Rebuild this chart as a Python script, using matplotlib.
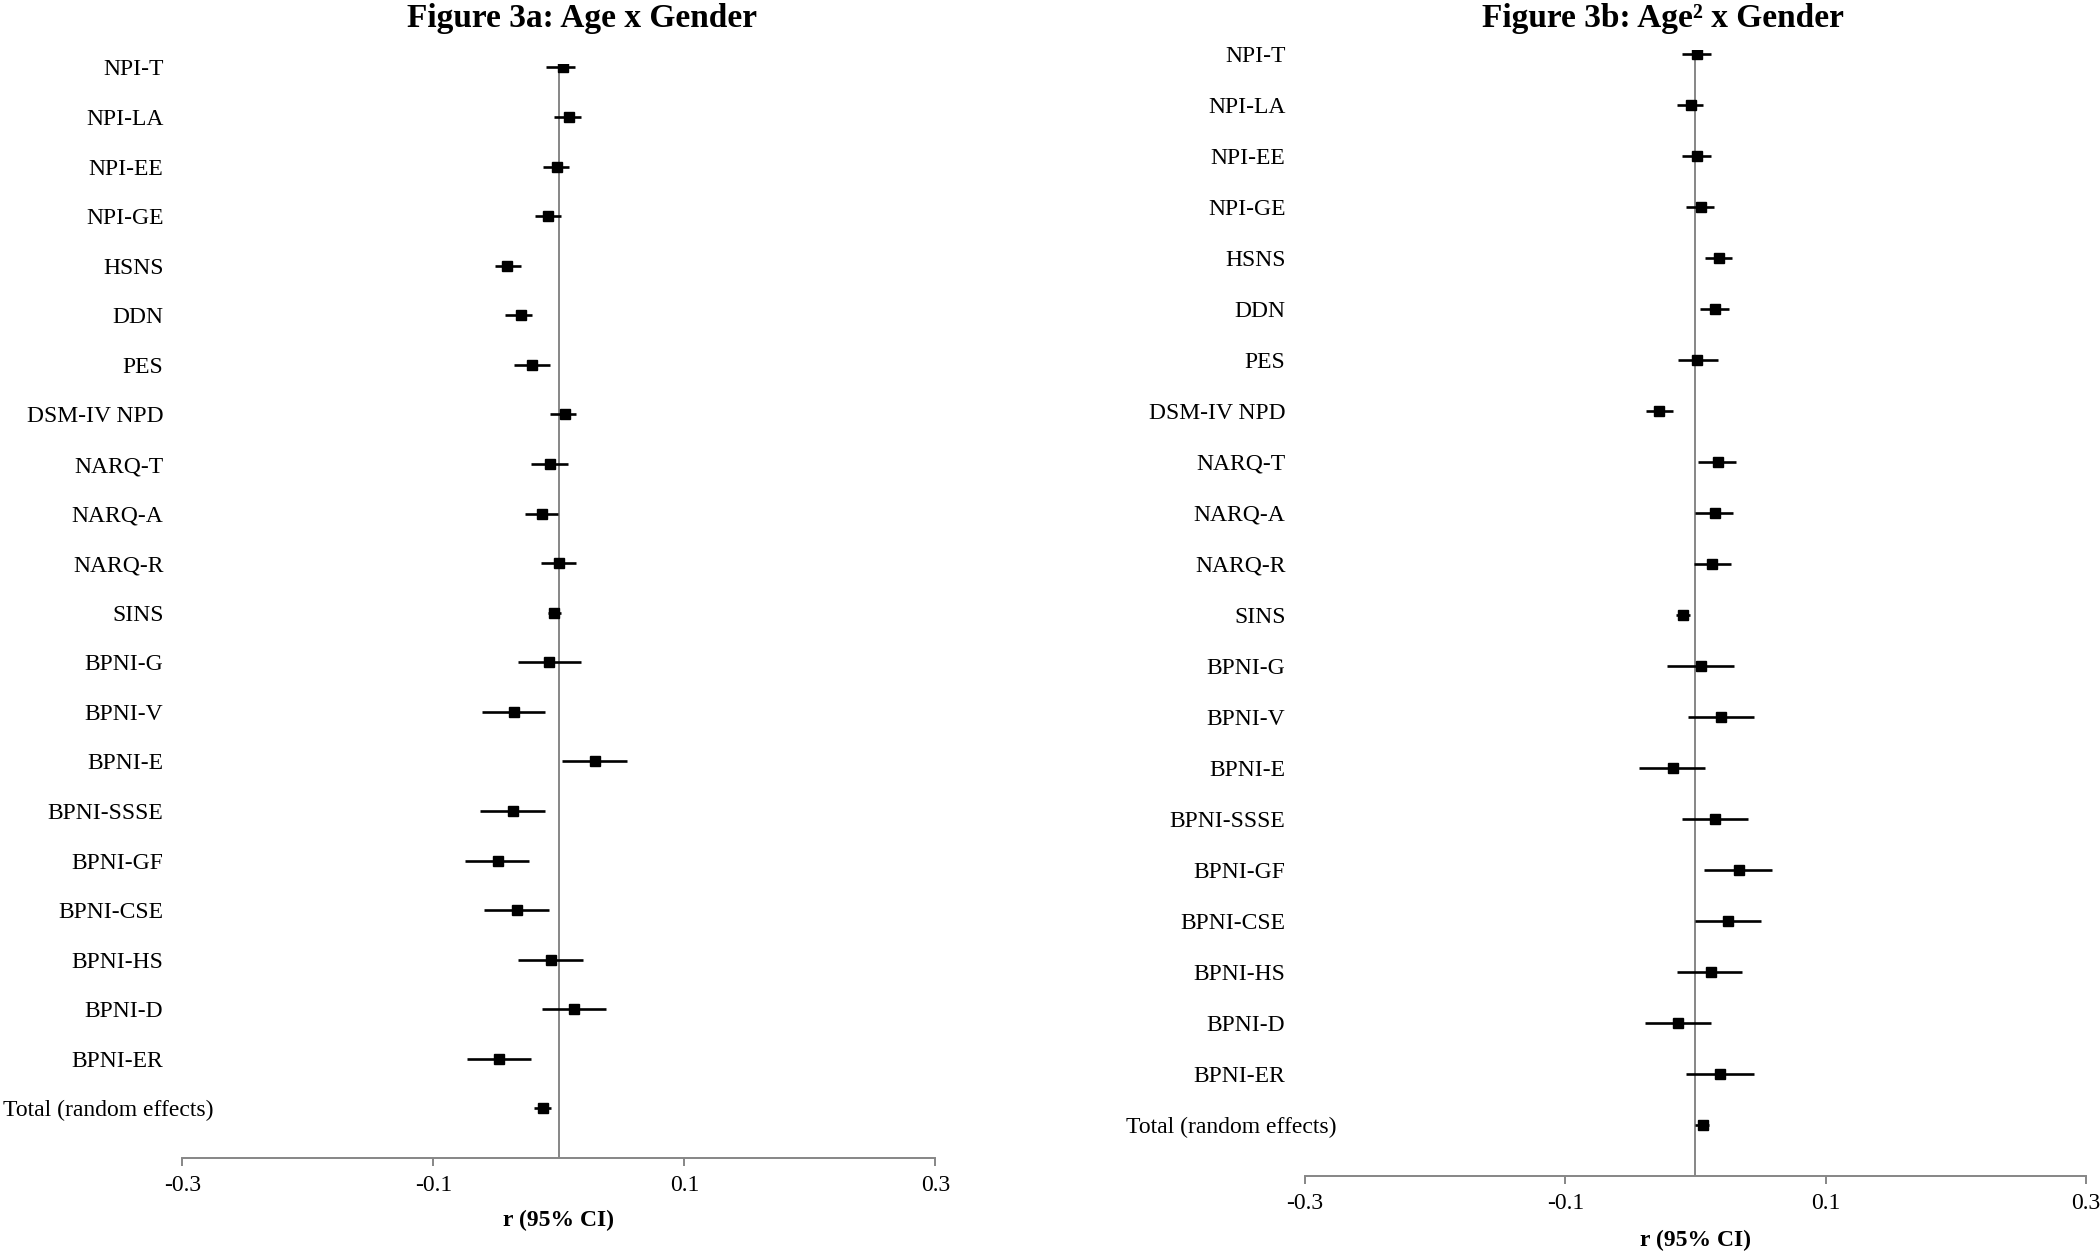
import numpy as np
from matplotlib import pyplot as plt

plt.rcParams['font.family'] = ['Liberation Serif', 'DejaVu Serif']
plt.rcParams['font.size'] = 17

labels = ["NPI-T", "NPI-LA", "NPI-EE", "NPI-GE", "HSNS", "DDN", "PES",
          "DSM-IV NPD", "NARQ-T", "NARQ-A", "NARQ-R", "SINS", "BPNI-G",
          "BPNI-V", "BPNI-E", "BPNI-SSSE", "BPNI-GF", "BPNI-CSE", "BPNI-HS",
          "BPNI-D", "BPNI-ER", "Total (random effects)"]

# Figure 3a: Age x Gender
a_r = [0.003, 0.008, -0.0015, -0.009, -0.041, -0.030, -0.021, 0.005,
       -0.007, -0.013, 0.000, -0.0035, -0.0075, -0.0355, 0.0287, -0.0365,
       -0.0488, -0.0335, -0.006, 0.012, -0.048, -0.0127]
a_lo = [-0.010, -0.004, -0.0125, -0.019, -0.051, -0.043, -0.036, -0.007,
        -0.022, -0.027, -0.014, -0.009, -0.0325, -0.061, 0.0024, -0.0625,
        -0.0747, -0.0595, -0.0325, -0.0137, -0.073, -0.0198]
a_hi = [0.013, 0.018, 0.008, 0.002, -0.030, -0.021, -0.007, 0.014,
        0.007, -0.0005, 0.014, 0.002, 0.018, -0.011, 0.0545, -0.0107,
        -0.0234, -0.008, 0.019, 0.0376, -0.022, -0.006]

# Figure 3b: Age^2 x Gender
b_r = [0.0015, -0.0036, 0.001, 0.004, 0.018, 0.0154, 0.0015, -0.0278,
       0.017, 0.0154, 0.0129, -0.0093, 0.004, 0.0196, -0.0175, 0.0154,
       0.0335, 0.0252, 0.0118, -0.0134, 0.0185, 0.0057]
b_lo = [-0.010, -0.0144, -0.010, -0.007, 0.0077, 0.0036, -0.0134, -0.038,
        0.002, 0.000, -0.001, -0.0148, -0.0216, -0.006, -0.0437, -0.0103,
        0.0067, -0.0005, -0.0144, -0.039, -0.0072, 0.000]
b_hi = [0.012, 0.006, 0.012, 0.0144, 0.028, 0.0257, 0.0175, -0.0175,
        0.031, 0.029, 0.027, -0.0038, 0.030, 0.0448, 0.0072, 0.0407,
        0.0587, 0.0504, 0.036, 0.0118, 0.0453, 0.0108]

grey = '#868686'


def forest(ax, r, lo, hi):
    r = np.array(r)
    lo = np.array(lo)
    hi = np.array(hi)
    y = np.arange(len(r), 0, -1)
    ax.axvline(0, color=grey, lw=1.4, zorder=1)
    ax.errorbar(r, y, xerr=[r - lo, hi - r], fmt='s', color='black',
                ms=6.5, elinewidth=1.9, capsize=0, zorder=3)
    for yi, lab in zip(y, labels):
        if lab.startswith("Total"):
            ax.text(-0.2755, yi, lab, ha='right', va='center_baseline',
                    clip_on=False)
        else:
            ax.text(-0.315, yi, lab, ha='right', va='center_baseline',
                    clip_on=False)
    ax.set_xlim(-0.3, 0.3)
    ax.set_ylim(0, len(r) + 0.08)
    ax.set_xticks([-0.3, -0.1, 0.1, 0.3])
    ax.set_xticklabels(["-0.3", "-0.1", "0.1", "0.3"])
    ax.set_yticks([])
    for s in ['left', 'right', 'top']:
        ax.spines[s].set_visible(False)
    ax.spines['bottom'].set_color(grey)
    ax.spines['bottom'].set_linewidth(1.4)
    ax.tick_params(axis='x', direction='out', length=6, width=1.4,
                   color=grey, pad=6)


fig = plt.figure(figsize=(21, 12.53), dpi=100)

ax1 = fig.add_axes([0.0868, 0.0758, 0.3586, 0.8735])
forest(ax1, a_r, a_lo, a_hi)
ax1.set_xlabel("r (95% CI)", fontweight='bold', labelpad=10)

ax2 = fig.add_axes([0.6214, 0.0615, 0.3719, 0.8987])
forest(ax2, b_r, b_lo, b_hi)
ax2.set_xlabel("r (95% CI)", fontweight='bold', labelpad=12)

fig.text(582 / 2100, 1 - 19 / 1253, "Figure 3a: Age x Gender",
         ha='center', va='center', fontsize=24, fontweight='bold')
fig.text(1663 / 2100, 1 - 19 / 1253, "Figure 3b: Age\u00b2 x Gender",
         ha='center', va='center', fontsize=24, fontweight='bold')

fig.savefig("out.png", dpi=100)
